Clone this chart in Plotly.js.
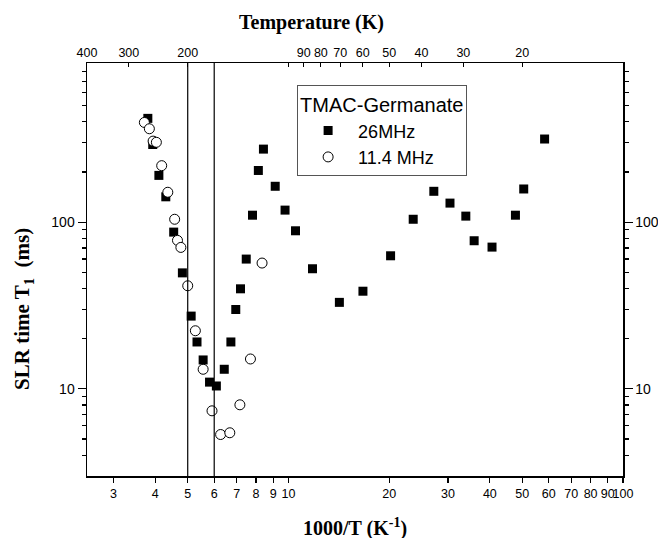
<!DOCTYPE html>
<html><head><meta charset="utf-8">
<script src="https://cdn.plot.ly/plotly-3.0.1.min.js"></script>
<style>body{margin:0;background:#fff}#chart{width:658px;height:538px}</style>
</head><body><div id="chart"></div>
<script>
// 26 MHz data: 1000/T (K^-1) and T1 (ms)
const invT26 = [3.80,3.93,4.10,4.30,4.54,4.82,5.12,5.33,5.56,5.81,6.09,6.43,6.73,6.96,7.19,7.48,7.81,8.13,8.42,9.13,9.77,10.5,11.8,14.2,16.7,20.2,23.6,27.2,30.4,33.9,35.9,40.6,47.7,50.5,58.3];
const t1_26   = [419,292,190.6,141.8,87.1,49.6,27.3,19.1,14.9,10.97,10.4,13.1,19.1,29.9,39.8,60.0,110,204,274,164,118,88.7,52.5,33.0,38.5,62.8,104,153,130,108.6,77.3,70.8,110,158,315];
// 11.4 MHz data
const invT11 = [3.71,3.84,3.94,4.03,4.18,4.36,4.57,4.66,4.77,5.00,5.27,5.56,5.91,6.27,6.68,7.16,7.70,8.34];
const t1_11   = [396,363,306,301,218,151,104,77.7,70.5,41.5,22.3,13.1,7.38,5.32,5.45,8.02,15.1,56.8];

const xTickVals = [3,4,5,6,7,8,9,10,20,30,40,50,60,70,80,90,100];
const tempTicks = [400,300,200,100,90,80,70,60,50,40,30,20];
const tempLabels = ['400','300','200','','90','80','70','60','50','40','30','20'];
const yTickVals = [10,100];
const yMinorVals = [4,5,6,7,8,9,20,30,40,50,60,70,80,90,200,300,400,500,600,700,800];
const boundaries = [5,6];
const xRange = [2.5,100];
const yRange = [3,900];

const tickFont = {family:'"Liberation Sans", Arial, sans-serif', size:12.5, color:'#000'};
const yTickFont = {family:'"Liberation Sans", Arial, sans-serif', size:14, color:'#000'};
const titleFont = {family:'"Liberation Serif", "Times New Roman", serif', size:20, color:'#000'};

const lr = a => a.map(Math.log10);

const traces = [
  {x: invT26, y: t1_26, mode:'markers', type:'scatter', name:'26MHz',
   marker:{symbol:'square', size:9, color:'#000', line:{width:0}}},
  {x: invT11, y: t1_11, mode:'markers', type:'scatter', name:'11.4 MHz',
   marker:{symbol:'circle', size:10, color:'#fff', line:{width:1, color:'#000'}}},
  {x: [], y: [], xaxis:'x2', yaxis:'y2', mode:'markers', showlegend:false, hoverinfo:'skip'}
];

const baseX = {type:'log', range: lr(xRange), showgrid:false, zeroline:false, tickangle:0,
  showline:true, linecolor:'#000', linewidth:1.5, tickcolor:'#000', tickwidth:1.2};
const baseY = {type:'log', range: lr(yRange), showgrid:false, zeroline:false,
  showline:true, linecolor:'#000', linewidth:1.5, tickcolor:'#000', tickwidth:1.2,
  tickmode:'array', tickvals:yTickVals, ticktext:yTickVals.map(String),
  ticks:'outside', ticklen:8, tickfont:yTickFont,
  minor:{tickmode:'array', tickvals:yMinorVals, ticks:'outside', ticklen:4, tickcolor:'#000', tickwidth:1.2, showgrid:false}};

const layout = {
  width:658, height:538, paper_bgcolor:'#fff', plot_bgcolor:'#fff',
  margin:{l:87, r:35, t:63, b:62},
  showlegend:true,
  xaxis: Object.assign({}, baseX, {tickmode:'array', tickvals:xTickVals, ticktext:xTickVals.map(String),
    ticks:'outside', ticklen:5, tickfont:tickFont}),
  xaxis2: Object.assign({}, baseX, {overlaying:'x', side:'top', anchor:'y2', tickmode:'array',
    tickvals: tempTicks.map(t => 1000/t), ticktext: tempLabels, ticks:'inside', ticklen:4, tickfont:tickFont}),
  yaxis: Object.assign({}, baseY, {side:'left'}),
  yaxis2: Object.assign({}, baseY, {overlaying:'y', side:'right', anchor:'x2'}),
  shapes: boundaries.map(b => ({type:'line', xref:'x', yref:'paper', x0:b, x1:b, y0:0, y1:1,
    line:{color:'#000', width:1.2}})),
  legend:{x:0.392, y:0.946, xanchor:'left', yanchor:'top', bgcolor:'#fff', bordercolor:'#555', borderwidth:1,
    font:{family:'"Liberation Sans", Arial, sans-serif', size:18, color:'#000'},
    title:{text:'TMAC-Germanate', font:{family:'"Liberation Sans", Arial, sans-serif', size:20, color:'#000'}},
    itemwidth:50, tracegroupgap:0},
  annotations:[
    {text:'<b>Temperature (K)</b>', xref:'paper', yref:'paper', x:0.418, y:1.099, showarrow:false, font:titleFont, xanchor:'center', yanchor:'middle'},
    {text:'<b>1000/T (K<sup>-1</sup>)</b>', xref:'paper', yref:'paper', x:0.5, y:-0.124, showarrow:false, font:titleFont, xanchor:'center', yanchor:'middle'},
    {text:'<b>SLR time T<sub>1</sub>&nbsp;&nbsp;(ms)</b>', xref:'paper', yref:'paper', x:-0.119, y:0.405, showarrow:false, font:{family:titleFont.family, size:21, color:'#000'}, textangle:-90, xanchor:'center', yanchor:'middle'}
  ]
};

Plotly.newPlot('chart', traces, layout, {displayModeBar:false, staticPlot:true});
</script>
</body></html>
